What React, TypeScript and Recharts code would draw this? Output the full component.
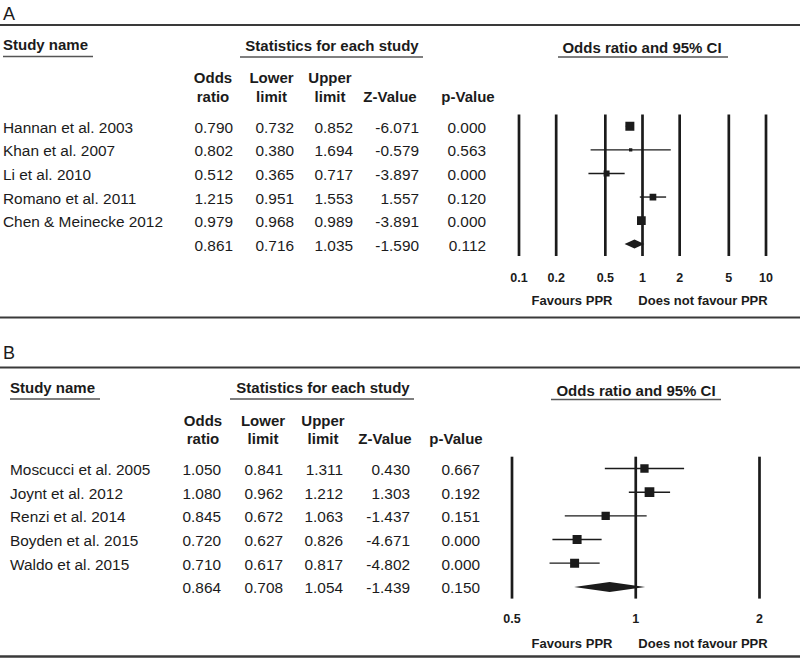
import React from 'react'
import {
  ComposedChart,
  XAxis,
  YAxis,
  ZAxis,
  Scatter,
  ErrorBar,
  Bar,
  ReferenceLine,
} from 'recharts'

// Panel A
const STUDIES_A = ['Hannan et al. 2003', 'Khan et al. 2007', 'Li et al. 2010', 'Romano et al. 2011', 'Chen & Meinecke 2012', '']
const OR_A = [0.79, 0.802, 0.512, 1.215, 0.979, 0.861]
const LOWER_A = [0.732, 0.38, 0.365, 0.951, 0.968, 0.716]
const UPPER_A = [0.852, 1.694, 0.717, 1.553, 0.989, 1.035]
const Z_A = [-6.071, -0.579, -3.897, 1.557, -3.891, -1.59]
const P_A = [0.0, 0.563, 0.0, 0.12, 0.0, 0.112]
const WEIGHT_A = [81, 11, 36, 45, 76, 0] // relative weight (marker area)
const TICKS_A = [0.1, 0.2, 0.5, 1, 2, 5, 10]

// Panel B
const STUDIES_B = ['Moscucci et al. 2005', 'Joynt et al. 2012', 'Renzi et al. 2014', 'Boyden et al. 2015', 'Waldo et al. 2015', '']
const OR_B = [1.05, 1.08, 0.845, 0.72, 0.71, 0.864]
const LOWER_B = [0.841, 0.962, 0.672, 0.627, 0.617, 0.708]
const UPPER_B = [1.311, 1.212, 1.063, 0.826, 0.817, 1.054]
const Z_B = [0.43, 1.303, -1.437, -4.671, -4.802, -1.439]
const P_B = [0.667, 0.192, 0.151, 0.0, 0.0, 0.15]
const WEIGHT_B = [69, 94, 69, 81, 81, 0]
const TICKS_B = [0.5, 1, 2]

const HEADERS = [['Odds', 'ratio'], ['Lower', 'limit'], ['Upper', 'limit'], ['Z-Value'], ['p-Value']]

const INK = '#1b1b1b'
const FONT = '"Liberation Sans", Arial, Helvetica, sans-serif'

type Row = {
  name: string
  or: number
  lower: number
  upper: number
  z: number
  p: number
  weight: number
  summary: boolean
  err?: [number, number]
  range?: [number, number]
}

function buildRows(
  names: string[],
  or: number[],
  lo: number[],
  hi: number[],
  z: number[],
  p: number[],
  w: number[],
): Row[] {
  return names.map((name, i) => {
    const summary = i === names.length - 1
    return {
      name,
      or: or[i],
      lower: lo[i],
      upper: hi[i],
      z: z[i],
      p: p[i],
      weight: w[i],
      summary,
      err: summary ? undefined : [or[i] - lo[i], hi[i] - or[i]],
      range: summary ? [lo[i], hi[i]] : undefined,
    }
  })
}

const ROWS_A = buildRows(STUDIES_A, OR_A, LOWER_A, UPPER_A, Z_A, P_A, WEIGHT_A)
const ROWS_B = buildRows(STUDIES_B, OR_B, LOWER_B, UPPER_B, Z_B, P_B, WEIGHT_B)

// table text lives in the category axis ticks
function makeRowTick(rows: Row[], nameX: number, colRight: number[]) {
  return function RowTick(props: any) {
    const { y, payload } = props
    let i = rows.findIndex((r) => r.name === payload?.value)
    if (i < 0) i = payload?.index ?? props.index
    const r = rows[i]
    if (!r) return <g />
    const vals = [r.or, r.lower, r.upper, r.z, r.p]
    const by = y + 6.5
    return (
      <g fontFamily={FONT} fontSize={15.4} fill={INK}>
        <text x={nameX} y={by} textAnchor="start">
          {r.name}
        </text>
        {vals.map((v, k) => (
          <text key={k} x={colRight[k]} y={by} textAnchor="end">
            {v.toFixed(3)}
          </text>
        ))}
      </g>
    )
  }
}

function makeScaleTick(dy: number) {
  return function ScaleTick(props: any) {
    const { x, y, payload } = props
    return (
      <text
        x={x}
        y={y + dy}
        textAnchor="middle"
        fontFamily={FONT}
        fontSize={12.5}
        fontWeight="bold"
        fill={INK}
      >
        {payload.value}
      </text>
    )
  }
}

function Diamond(props: any) {
  const { x, y, width, height, payload } = props
  if (!payload?.summary || !Number.isFinite(x) || !Number.isFinite(width)) return <g />
  const t = Math.log(payload.or / payload.lower) / Math.log(payload.upper / payload.lower)
  const mid = x + width * t
  const cy = y + height / 2
  return (
    <polygon
      points={`${x},${cy} ${mid},${y} ${x + width},${cy} ${mid},${y + height}`}
      fill={INK}
    />
  )
}

function Forest({
  rows,
  ticks,
  top,
  height,
  margin,
  yWidth,
  nameX,
  colRight,
  tickDy,
  diamondH,
}: {
  rows: Row[]
  ticks: number[]
  top: number
  height: number
  margin: { top: number; right: number; bottom: number; left: number }
  yWidth: number
  nameX: number
  colRight: number[]
  tickDy: number
  diamondH: number
}) {
  return (
    <div style={{ position: 'absolute', left: 0, top, width: 800, height }}>
      <ComposedChart width={800} height={height} data={rows} layout="vertical" margin={margin}>
        <XAxis
          type="number"
          scale="log"
          domain={[ticks[0], ticks[ticks.length - 1]]}
          ticks={ticks}
          interval={0}
          allowDataOverflow
          axisLine={false}
          tickLine={false}
          tickSize={0}
          tickMargin={0}
          height={30}
          tick={makeScaleTick(tickDy)}
        />
        <YAxis
          type="category"
          dataKey="name"
          width={yWidth}
          interval={0}
          axisLine={false}
          tickLine={false}
          tick={makeRowTick(rows, nameX, colRight)}
        />
        <ZAxis type="number" dataKey="weight" domain={[0, 100]} range={[0, 100]} />
        {ticks.map((t) => (
          <ReferenceLine key={t} x={t} stroke={INK} strokeWidth={2.7} ifOverflow="visible" />
        ))}
        <Bar dataKey="range" barSize={diamondH} shape={Diamond} isAnimationActive={false} />
        <Scatter dataKey="or" shape="square" fill={INK} isAnimationActive={false}>
          <ErrorBar dataKey="err" direction="x" width={0} stroke={INK} strokeWidth={1.4} />
        </Scatter>
      </ComposedChart>
    </div>
  )
}

function Headers({
  titleY,
  lineY,
  centers,
  line1,
  line2,
}: {
  titleY: number
  lineY: number
  centers: number[]
  line1: number
  line2: number
}) {
  return (
    <g fontWeight="bold" fontSize={15} textAnchor="middle">
      {HEADERS.map((h, k) =>
        h.length === 2 ? (
          <g key={k}>
            <text x={centers[k]} y={line1}>
              {h[0]}
            </text>
            <text x={centers[k]} y={line2}>
              {h[1]}
            </text>
          </g>
        ) : (
          <text key={k} x={centers[k]} y={line2}>
            {h[0]}
          </text>
        ),
      )}
    </g>
  )
}

function Overlay() {
  const rule = '#3a3a3a'
  const under = '#555'
  return (
    <svg
      width={800}
      height={659}
      style={{ position: 'absolute', left: 0, top: 0, pointerEvents: 'none' }}
      fontFamily={FONT}
      fill={INK}
    >
      {/* panel A */}
      <text x={3} y={19.5} fontSize={18}>
        A
      </text>
      <line x1={0} x2={800} y1={25} y2={25} stroke={rule} strokeWidth={2} />
      <text x={3} y={50} fontSize={15} fontWeight="bold">
        Study name
      </text>
      <line x1={3} x2={93} y1={56.5} y2={56.5} stroke={under} strokeWidth={1.3} />
      <text x={332} y={51} fontSize={15} fontWeight="bold" textAnchor="middle">
        Statistics for each study
      </text>
      <line x1={240} x2={423} y1={57} y2={57} stroke={under} strokeWidth={1.3} />
      <text x={642} y={52.5} fontSize={15} fontWeight="bold" textAnchor="middle">
        Odds ratio and 95% CI
      </text>
      <line x1={558} x2={728} y1={57} y2={57} stroke={under} strokeWidth={1.3} />
      <Headers titleY={0} lineY={0} centers={[213, 271.5, 330, 390, 468]} line1={83} line2={102} />
      <g fontSize={13} fontWeight="bold" textAnchor="middle">
        <text x={572} y={305}>
          Favours PPR
        </text>
        <text x={703} y={305}>
          Does not favour PPR
        </text>
      </g>
      <line x1={0} x2={800} y1={317.5} y2={317.5} stroke={rule} strokeWidth={1.8} />

      {/* panel B */}
      <text x={3} y={359} fontSize={18}>
        B
      </text>
      <line x1={0} x2={800} y1={367.5} y2={367.5} stroke={rule} strokeWidth={2} />
      <text x={10} y={393} fontSize={15} fontWeight="bold">
        Study name
      </text>
      <line x1={10} x2={100} y1={399} y2={399} stroke={under} strokeWidth={1.3} />
      <text x={323} y={393} fontSize={15} fontWeight="bold" textAnchor="middle">
        Statistics for each study
      </text>
      <line x1={230} x2={414} y1={399} y2={399} stroke={under} strokeWidth={1.3} />
      <text x={636} y={396} fontSize={15} fontWeight="bold" textAnchor="middle">
        Odds ratio and 95% CI
      </text>
      <line x1={551} x2={721} y1={399.5} y2={399.5} stroke={under} strokeWidth={1.3} />
      <Headers titleY={0} lineY={0} centers={[203, 263, 323, 385, 456]} line1={426} line2={444} />
      <g fontSize={13} fontWeight="bold" textAnchor="middle">
        <text x={572} y={648}>
          Favours PPR
        </text>
        <text x={703} y={648}>
          Does not favour PPR
        </text>
      </g>
      <line x1={0} x2={800} y1={656.5} y2={656.5} stroke={rule} strokeWidth={2.5} />
    </svg>
  )
}

export default function App() {
  return (
    <div style={{ position: 'relative', width: 800, height: 659, background: '#fff', overflow: 'hidden' }}>
      <style>{'body{margin:0}'}</style>
      <Forest
        rows={ROWS_A}
        ticks={TICKS_A}
        top={0}
        height={320}
        margin={{ top: 114.5, right: 34, bottom: 34, left: 0 }}
        yWidth={519}
        nameX={3}
        colRight={[233, 294, 353, 419, 486]}
        tickDy={26}
        diamondH={9}
      />
      <Forest
        rows={ROWS_B}
        ticks={TICKS_B}
        top={330}
        height={329}
        margin={{ top: 126.7, right: 40.5, bottom: 30.4, left: 0 }}
        yWidth={512}
        nameX={10}
        colRight={[221, 283, 343, 410, 480]}
        tickDy={24.7}
        diamondH={10}
      />
      <Overlay />
    </div>
  )
}
